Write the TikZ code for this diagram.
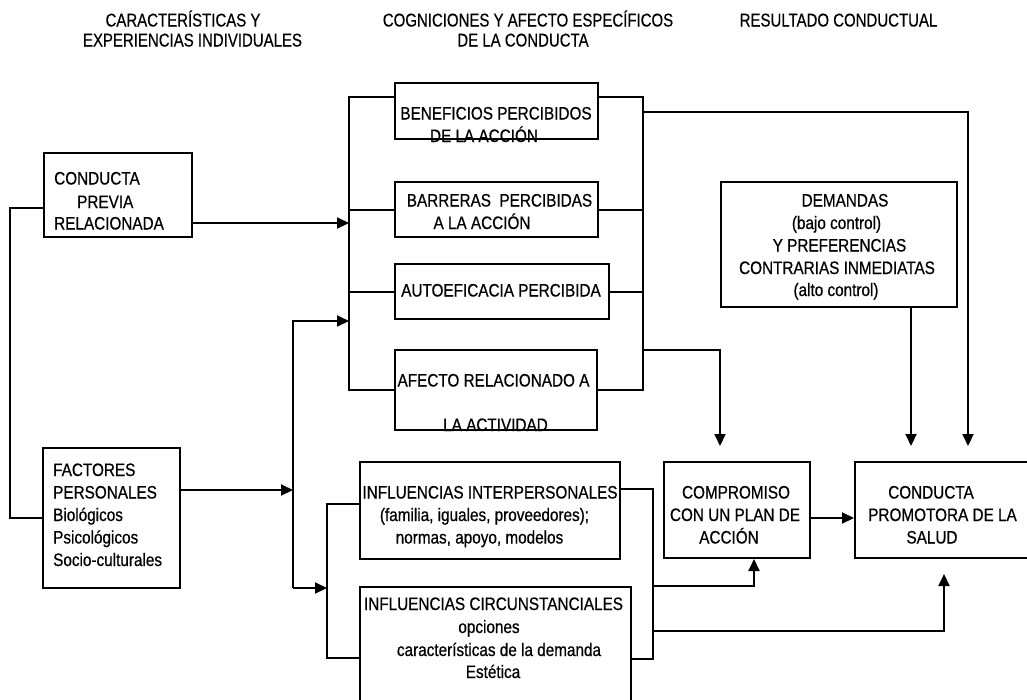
\documentclass[tikz,border=0pt]{standalone}
\usepackage{fontspec}
\usetikzlibrary{arrows.meta,calc}
\newfontfamily\bxf[FakeStretch=0.85,FakeBold=0.6]{Liberation Sans}
\newfontfamily\hdf[FakeStretch=0.81,FakeBold=0.4]{Liberation Sans}
\begin{document}
\begin{tikzpicture}[x=1pt,y=-1pt,
  ln/.style={line width=2pt},
  arr/.style={line width=2pt,-{Triangle[length=12pt,width=11pt]}},
  bx/.style={draw,line width=2pt,inner sep=0,rectangle},
  txt/.style={inner sep=0,anchor=base,font=\bxf\fontsize{18}{22}\selectfont},
  txl/.style={txt,anchor=base west},
  hdr/.style={inner sep=0,anchor=base,font=\hdf\fontsize{18.5}{22}\selectfont}]
\useasboundingbox (0,0) rectangle (1027,699);
\fill[white] (0,0) rectangle (1027,699);
% headers
\node[hdr] (h1) at (183,26.5) {CARACTERÍSTICAS Y};
\node[hdr] (h2) at (192.5,46.5) {EXPERIENCIAS INDIVIDUALES};
\node[hdr] (h3) at (528,26.5) {COGNICIONES Y AFECTO ESPECÍFICOS};
\node[hdr] (h4) at (523,46.5) {DE LA CONDUCTA};
\node[hdr] (h5) at (838.5,26.5) {RESULTADO CONDUCTUAL};
% boxes
\node[bx,minimum width=148pt,minimum height=84pt] (cpr) at (118,195) {};
\node[bx,minimum width=137pt,minimum height=140pt] (fp) at (111.5,518) {};
\node[bx,minimum width=203pt,minimum height=56pt] (ben) at (496.5,111) {};
\node[bx,minimum width=203pt,minimum height=55pt] (bar) at (496.5,209.5) {};
\node[bx,minimum width=214pt,minimum height=55pt] (aut) at (502,291.5) {};
\node[bx,minimum width=202pt,minimum height=80pt] (afe) at (496,390) {};
\node[bx,minimum width=236pt,minimum height=125pt] (dem) at (839,244.5) {};
\node[bx,minimum width=146pt,minimum height=96pt] (com) at (737,510) {};
\node[bx,minimum width=185pt,minimum height=96pt] (cps) at (947.5,510) {};
\node[bx,minimum width=260pt,minimum height=97pt] (ii) at (490,510.5) {};
\node[bx,minimum width=271pt,minimum height=133pt] (ic) at (495.5,653.5) {};
% box texts
\node[txl] (t1) at (54,184.5) {CONDUCTA};
\node[txl] (t2) at (77,208) {PREVIA};
\node[txl] (t3) at (54,229.5) {RELACIONADA};
\node[txl] (t4) at (53,476) {FACTORES};
\node[txl] (t5) at (53,498.5) {PERSONALES};
\node[txl] (t6) at (53,521) {Biológicos};
\node[txl] (t7) at (53,543.5) {Psicológicos};
\node[txl] (t8) at (53,566) {Socio-culturales};
\node[txt] (t9) at (496,119.5) {BENEFICIOS PERCIBIDOS};
\node[txt] (t10) at (484,142) {DE LA ACCIÓN};
\node[txt] (t11) at (499.5,206.5) {BARRERAS\ \ PERCIBIDAS};
\node[txt] (t12) at (482,229) {A LA ACCIÓN};
\node[txt] (t13) at (501,296.5) {AUTOEFICACIA PERCIBIDA};
\node[txt] (t14) at (493.5,386.5) {AFECTO RELACIONADO A};
\node[txt] (t15) at (495.5,431) {LA ACTIVIDAD};
\node[txt] (t16) at (845,206.5) {DEMANDAS};
\node[txt] (t17) at (836.5,229) {(bajo control)};
\node[txt] (t18) at (839.5,251.5) {Y PREFERENCIAS};
\node[txt] (t19) at (837,274) {CONTRARIAS INMEDIATAS};
\node[txt] (t20) at (836,296) {(alto control)};
\node[txt] (t21) at (736,498.5) {COMPROMISO};
\node[txt] (t22) at (735,521) {CON UN PLAN DE};
\node[txt] (t23) at (729,543.5) {ACCIÓN};
\node[txt] (t24) at (931,498.5) {CONDUCTA};
\node[txt] (t25) at (942.5,521) {PROMOTORA DE LA};
\node[txt] (t26) at (932,543.5) {SALUD};
\node[txt] (t27) at (490,498.5) {INFLUENCIAS INTERPERSONALES};
\node[txt] (t28) at (484.5,521) {(familia, iguales, proveedores);};
\node[txt] (t29) at (479.5,543.5) {normas, apoyo, modelos};
\node[txt] (t30) at (493.5,610) {INFLUENCIAS CIRCUNSTANCIALES};
\node[txt] (t31) at (489,633) {opciones};
\node[txt] (t32) at (499,656) {características de la demanda};
\node[txt] (t33) at (493,678) {Estética};
% junction coordinates
\coordinate (j1) at (10,208);
\coordinate (lb2) at (349,223);
\coordinate (LB) at (349,97);
\coordinate (RB) at (643,97);
\coordinate (r1) at (968,112);
\coordinate (d1) at (911,400);
\coordinate (c1) at (720,350);
\coordinate (cc) at (0,518);
\coordinate (fv) at (293,490);
\coordinate (ft) at (293,321);
\coordinate (fb) at (293,588);
\coordinate (ILT) at (327,504);
\coordinate (ILB) at (327,658);
\coordinate (IRT) at (653,489);
\coordinate (IRB) at (653,659);
\coordinate (k1) at (754,586);
\coordinate (k2) at (944,631);
% connectors
\draw[ln] (cpr.west |- j1) -- (j1) -- (j1 |- fp.west) -- (fp.west);
\draw[arr] (cpr.east |- lb2) -- (lb2);
\draw[ln] (ben.west |- LB) -- (LB) -- (LB |- afe.west) -- (afe.west);
\draw[ln] (LB |- bar.west) -- (bar.west);
\draw[ln] (LB |- aut.west) -- (aut.west);
\draw[ln] (ben.east |- RB) -- (RB) -- (RB |- afe.east) -- (afe.east);
\draw[ln] (RB |- bar.east) -- (bar.east);
\draw[ln] (RB |- aut.east) -- (aut.east);
\draw[arr,shorten >=15pt] (RB |- r1) -- (r1) -- (r1 |- cps.north);
\draw[arr,shorten >=15pt] (dem.south -| d1) -- (d1 |- cps.north);
\draw[arr,shorten >=15pt] (RB |- c1) -- (c1) -- (c1 |- com.north);
\draw[arr] (com.east |- cc) -- (cps.west |- cc);
\draw[arr] (fp.east |- fv) -- (fv);
\draw[arr] (fb) -- (ft) -- (ft -| LB);
\draw[arr] (fb) -- (fb -| ILT);
\draw[ln] (ii.west |- ILT) -- (ILT) -- (ILB) -- (ic.west |- ILB);
\draw[ln] (ii.east |- IRT) -- (IRT) -- (IRB) -- (ic.east |- IRB);
\draw[arr] (k1 -| IRT) -- (k1) -- (k1 |- com.south);
\draw[arr,shorten >=15pt] (k2 -| IRT) -- (k2) -- (k2 |- cps.south);
\end{tikzpicture}
\end{document}
